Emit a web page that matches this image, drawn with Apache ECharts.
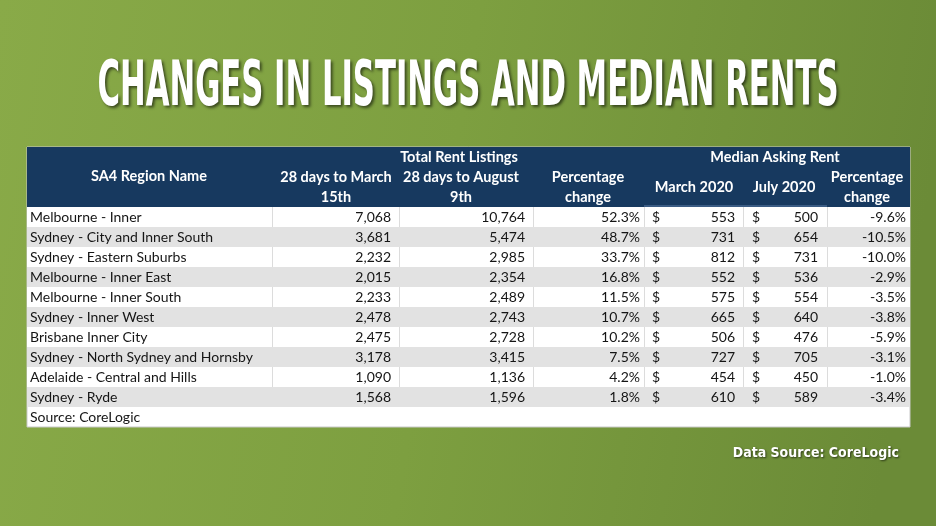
<!DOCTYPE html>
<html><head><meta charset="utf-8">
<script src="https://cdn.jsdelivr.net/npm/echarts@6/dist/echarts.min.js"></script>
<style>html,body{margin:0;padding:0;background:#7a9c3e}#c{width:936px;height:526px}</style>
</head><body><div id="c"></div>
<script>
// ---- data ----
const titleText = 'CHANGES IN LISTINGS AND MEDIAN RENTS';
const dataSourceText = 'Data Source: CoreLogic';
const sourceNote = 'Source: CoreLogic';
const groupHeaders = ['Total Rent Listings', 'Median Asking Rent'];
const columnHeaders = ['SA4 Region Name', '28 days to March\n15th', '28 days to August\n9th', 'Percentage\nchange', 'March 2020', 'July 2020', 'Percentage\nchange'];
const regions = ['Melbourne - Inner', 'Sydney - City and Inner South', 'Sydney - Eastern Suburbs', 'Melbourne - Inner East', 'Melbourne - Inner South', 'Sydney - Inner West', 'Brisbane Inner City', 'Sydney - North Sydney and Hornsby', 'Adelaide - Central and Hills', 'Sydney - Ryde'];
const listingsMarch = [7068, 3681, 2232, 2015, 2233, 2478, 2475, 3178, 1090, 1568];
const listingsAugust = [10764, 5474, 2985, 2354, 2489, 2743, 2728, 3415, 1136, 1596];
const listingsPct = [52.3, 48.7, 33.7, 16.8, 11.5, 10.7, 10.2, 7.5, 4.2, 1.8];
const rentMarch = [553, 731, 812, 552, 575, 665, 506, 727, 454, 610];
const rentJuly = [500, 654, 731, 536, 554, 640, 476, 705, 450, 589];
const rentPct = [-9.6, -10.5, -10.0, -2.9, -3.5, -3.8, -5.9, -3.1, -1.0, -3.4];

// ---- layout (table units: x in px from table left, y in row units) ----
const TW = 883, HEADER_ROWS = 3, NROWS = HEADER_ROWS + regions.length + 1;
const colEdges = [0, 245, 372, 506, 617, 716, 800, 883];
const FONT = '14px Lato';
const BFONT = 'bold 14.5px Lato';

const fmtInt = v => v.toLocaleString('en-US');
const fmtPct = v => v.toFixed(1) + '%';

function txt(x, y, s, align, font, fill) {
  return {type: 'text', silent: true, style: {text: s, x: x, y: y, align: align, textAlign: align, verticalAlign: 'middle', textVerticalAlign: 'middle', font: font, fill: fill}};
}

const chart = echarts.init(document.getElementById('c'), null, {renderer: 'canvas'});

// title scaling to match condensed display face
const TFONT = 'bold 62px "DejaVu Sans Condensed"';
const mctx = document.createElement('canvas').getContext('2d');
mctx.font = TFONT;
const titleScale = 741 / mctx.measureText(titleText).width;

chart.setOption({
  animation: false,
  backgroundColor: {type: 'linear', x: 0, y: 0, x2: 1, y2: 0.3, colorStops: [
    {offset: 0, color: '#89aa48'}, {offset: 0.5, color: '#7d9f40'}, {offset: 1, color: '#6b8b37'}]},
  grid: {left: 27, top: 147, width: TW, height: 280},
  xAxis: {type: 'value', min: 0, max: TW, show: false},
  yAxis: {type: 'value', min: 0, max: NROWS, inverse: true, show: false},
  graphic: [
    {type: 'text', x: 468, y: 89, scaleX: titleScale, scaleY: 1, silent: true,
     style: {text: titleText, font: TFONT, fill: '#ffffff', align: 'center', textAlign: 'center', verticalAlign: 'middle', textVerticalAlign: 'middle',
       textShadowColor: 'rgba(0,0,0,0.55)', textShadowBlur: 3, textShadowOffsetX: 2, textShadowOffsetY: 2}},
    {type: 'text', x: 899, y: 453, silent: true,
     style: {text: dataSourceText, font: 'bold 14px "DejaVu Sans Condensed"', fill: '#ffffff', align: 'right', textAlign: 'right', verticalAlign: 'middle', textVerticalAlign: 'middle',
       textShadowColor: 'rgba(0,0,0,0.6)', textShadowBlur: 2, textShadowOffsetX: 1, textShadowOffsetY: 1}}
  ],
  series: [
    {
      type: 'custom', coordinateSystem: 'cartesian2d', silent: true,
      data: [[0]],
      renderItem: function (params, api) {
        const p0 = api.coord([0, 0]);
        const pH = api.coord([TW, HEADER_ROWS]);
        const ch = [];
        const X = v => api.coord([v, 0])[0];
        const Y = r => api.coord([0, r])[1];
        const tableEnd = api.coord([TW, NROWS]);
        ch.push({type: 'rect', shape: {x: p0[0], y: p0[1], width: pH[0] - p0[0], height: tableEnd[1] - p0[1]}, style: {fill: '#ffffff', stroke: '#c9c9c9', lineWidth: 1}});
        ch.push({type: 'rect', shape: {x: p0[0], y: p0[1], width: pH[0] - p0[0], height: pH[1] - p0[1]}, style: {fill: '#17395f'}});
        ch.push({type: 'rect', shape: {x: X(colEdges[4]), y: pH[1] - 2, width: X(colEdges[6]) - X(colEdges[4]), height: 2}, style: {fill: '#3b5c84'}});
        ch.push(txt(X(3), (Y(NROWS - 1) + Y(NROWS)) / 2, sourceNote, 'left', FONT, '#151515'));
        const W = '#ffffff';
        ch.push(txt(X(432), Y(0.5), groupHeaders[0], 'center', BFONT, W));
        ch.push(txt(X(748), Y(0.5), groupHeaders[1], 'center', BFONT, W));
        const hc = [122, 309, 434, 561, 667, 757, 840];
        const two = s => s.split('\n');
        ch.push(txt(X(hc[0]), Y(1.45), columnHeaders[0], 'center', BFONT, W));
        [1, 2, 3, 6].forEach(k => {
          const parts = two(columnHeaders[k]);
          ch.push(txt(X(hc[k]), Y(1.5), parts[0], 'center', BFONT, W));
          ch.push(txt(X(hc[k]), Y(2.5), parts[1], 'center', BFONT, W));
        });
        ch.push(txt(X(hc[4]), Y(2), columnHeaders[4], 'center', BFONT, W));
        ch.push(txt(X(hc[5]), Y(2), columnHeaders[5], 'center', BFONT, W));
        return {type: 'group', children: ch};
      },
      z: 1
    },
    {
      type: 'custom', coordinateSystem: 'cartesian2d', silent: true,
      data: regions.map((r, i) => [i]),
      renderItem: function (params, api) {
        const i = api.value(0);
        const r0 = HEADER_ROWS + i;
        const a = api.coord([0, r0]);
        const b = api.coord([TW, r0 + 1]);
        const X = v => api.coord([v, 0])[0];
        const yc = (a[1] + b[1]) / 2;
        const ch = [];
        const striped = i % 2 === 1;
        ch.push({type: 'rect', shape: {x: a[0], y: a[1], width: b[0] - a[0], height: b[1] - a[1]}, style: {fill: striped ? '#e2e2e2' : '#ffffff'}});
        if (!striped) {
          colEdges.slice(1, -1).forEach(e => {
            ch.push({type: 'line', shape: {x1: X(e) + 0.5, y1: a[1], x2: X(e) + 0.5, y2: b[1]}, style: {stroke: '#dcdcdc', lineWidth: 1}});
          });
        }
        const K = '#151515';
        ch.push(txt(X(3), yc, regions[i], 'left', FONT, K));
        ch.push(txt(X(364), yc, fmtInt(listingsMarch[i]), 'right', FONT, K));
        ch.push(txt(X(498), yc, fmtInt(listingsAugust[i]), 'right', FONT, K));
        ch.push(txt(X(613), yc, fmtPct(listingsPct[i]), 'right', FONT, K));
        ch.push(txt(X(625), yc, '$', 'left', FONT, K));
        ch.push(txt(X(708), yc, String(rentMarch[i]), 'right', FONT, K));
        ch.push(txt(X(725), yc, '$', 'left', FONT, K));
        ch.push(txt(X(791), yc, String(rentJuly[i]), 'right', FONT, K));
        ch.push(txt(X(879), yc, fmtPct(rentPct[i]), 'right', FONT, K));
        return {type: 'group', children: ch};
      },
      z: 2
    }
  ]
});
</script></body></html>
